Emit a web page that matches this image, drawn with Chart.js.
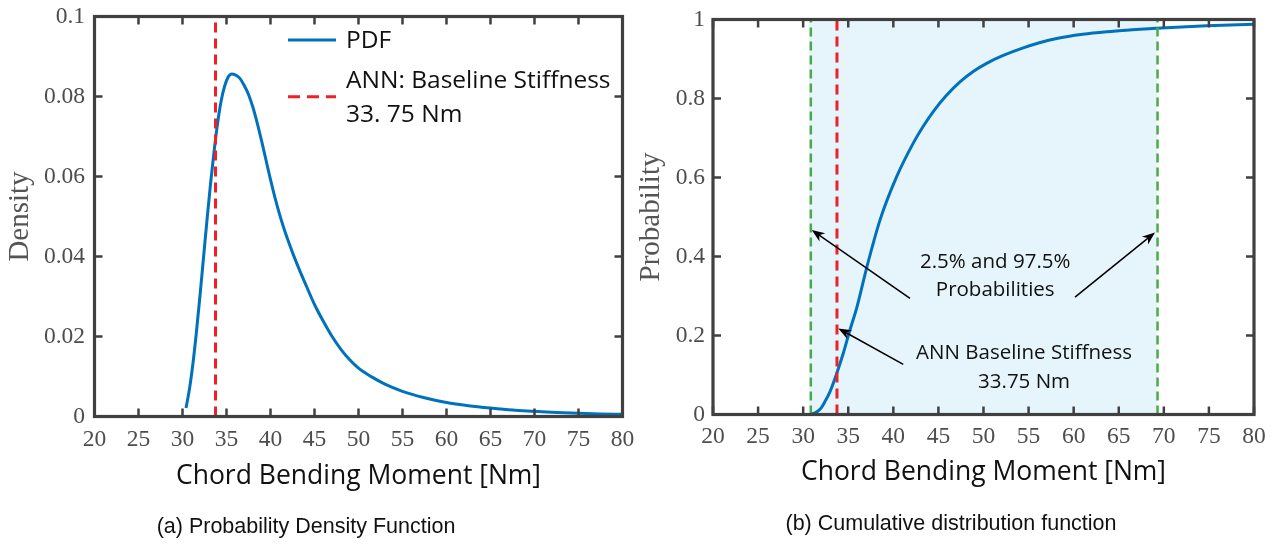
<!DOCTYPE html>
<html>
<head>
<meta charset="utf-8">
<script src="https://cdn.jsdelivr.net/npm/chart.js@4.4.1/dist/chart.umd.min.js"></script>
<style>
  body { margin: 0; background: #fff; }
  #wrap { position: relative; width: 1276px; height: 545px; overflow: hidden; }
  #pdfChart { position: absolute; left: 0; top: 0; }
  #cdfChart { position: absolute; left: 630px; top: 0; }
  .cap { position: absolute; font-family: "Liberation Sans", Arial, sans-serif; font-size: 21.5px; color: #111;
         white-space: nowrap; transform: translate(-50%, -50%); }
</style>
</head>
<body>
<div id="wrap">
  <canvas id="pdfChart" width="660" height="545"></canvas>
  <canvas id="cdfChart" width="646" height="545"></canvas>
  <div class="cap" style="left:306px; top:526px;">(a) Probability Density Function</div>
  <div class="cap" style="left:951px; top:523px;">(b) Cumulative distribution function</div>
</div>
<script>
// ---- data ----
const xTickValues = [20, 25, 30, 35, 40, 45, 50, 55, 60, 65, 70, 75, 80];
const pdfYTicks = [0, 0.02, 0.04, 0.06, 0.08, 0.1];
const pdfYLabels = ['0', '0.02', '0.04', '0.06', '0.08', '0.1'];
const cdfYTicks = [0, 0.2, 0.4, 0.6, 0.8, 1];
const cdfYLabels = ['0', '0.2', '0.4', '0.6', '0.8', '1'];

const pdfX = [30.4, 30.8, 31.2, 31.6, 32.0, 32.4, 32.8, 33.2, 33.6, 34.0, 34.4, 34.8, 35.2, 35.6, 36.0, 36.5,
  37.0, 37.5, 38.0, 38.5, 39.0, 39.5, 40.0, 40.5, 41.0, 41.5, 42.0, 42.6, 43.3, 44.1, 45.0, 46.0, 47.0, 48.0,
  49.0, 50.0, 51.5, 53.0, 55.0, 57.5, 60.0, 62.5, 65.0, 67.5, 70.0, 72.5, 75.0, 77.5, 80.0];
const pdfY = [0.0021, 0.0070, 0.0135, 0.0215, 0.0305, 0.0400, 0.0495, 0.0585, 0.0665, 0.0735, 0.0790, 0.0827,
  0.0849, 0.0856, 0.0854, 0.0846, 0.0828, 0.0805, 0.0773, 0.0733, 0.0688, 0.0640, 0.0592, 0.0548, 0.0508,
  0.0472, 0.0440, 0.0404, 0.0366, 0.0325, 0.0280, 0.0238, 0.0200, 0.0168, 0.0142, 0.0121, 0.0099, 0.0081,
  0.0063, 0.0047, 0.0035, 0.0027, 0.0021, 0.0016, 0.0013, 0.0010, 0.0008, 0.00065, 0.00055];

const cdfX = [30.76, 31.3, 31.87, 32.4, 32.98, 33.72, 34.45, 35.19, 35.94, 37.05, 38.52, 40.37, 42.21, 43.3,
  44.43, 45.9, 47.39, 48.9, 50.35, 52.0, 54.41, 56.2, 58.12, 61.0, 63.66, 66.5, 69.2, 74.75, 80];
const cdfY = [0, 0.004, 0.013, 0.032, 0.058, 0.104, 0.155, 0.214, 0.270, 0.372, 0.492, 0.602, 0.687, 0.729,
  0.767, 0.808, 0.842, 0.869, 0.889, 0.907, 0.928, 0.941, 0.952, 0.9625, 0.969, 0.974, 0.978, 0.984, 0.988];

const annBaseline = 33.75;           // red dashed line
const quantiles = [30.85, 69.3];     // green dashed lines (2.5% / 97.5%)
const shadeRange = [30.6, 69.3];

const legendLabels = ['PDF', 'ANN: Baseline Stiffness', '33. 75 Nm'];
const cdfNotes = [
  { text: '2.5% and 97.5%', x: 51.3, y: 0.385 },
  { text: 'Probabilities', x: 51.3, y: 0.315 },
  { text: 'ANN Baseline Stiffness', x: 54.5, y: 0.156 },
  { text: '33.75 Nm', x: 54.5, y: 0.083 }
];
const cdfArrows = [
  { from: [41.85, 0.294], to: [30.95, 0.467] },
  { from: [60.15, 0.297], to: [69.02, 0.461] },
  { from: [41.1, 0.127], to: [33.9, 0.218] }
];

const blue = '#0072BD';
const red = '#ee2028';
const green = '#4aab46';
const axisGrey = '#404040';
const serif = '"Liberation Serif", "Times New Roman", serif';
const sans = '"Open Sans", "Noto Sans", sans-serif';

function pts(xs, ys) {
  return xs.map((x, i) => ({ x: x, y: ys[i] }));
}

// box around the plot with inward ticks on all four sides
const frameTicks = {
  id: 'frameTicks',
  afterDraw(chart) {
    const ctx = chart.ctx;
    const a = chart.chartArea;
    const xs = chart.scales.x, ys = chart.scales.y;
    ctx.save();
    ctx.setLineDash([]);
    ctx.strokeStyle = axisGrey;
    ctx.lineWidth = 2.5;
    for (const v of xTickValues) {
      const px = xs.getPixelForValue(v);
      ctx.beginPath();
      ctx.moveTo(px, a.bottom); ctx.lineTo(px, a.bottom - 8);
      ctx.moveTo(px, a.top); ctx.lineTo(px, a.top + 8);
      ctx.stroke();
    }
    for (const t of ys.ticks) {
      const py = ys.getPixelForValue(t.value);
      ctx.beginPath();
      ctx.moveTo(a.left, py); ctx.lineTo(a.left + 8, py);
      ctx.moveTo(a.right, py); ctx.lineTo(a.right - 8, py);
      ctx.stroke();
    }
    ctx.lineWidth = 3.2;
    ctx.strokeRect(a.left, a.top, a.right - a.left, a.bottom - a.top);
    ctx.restore();
  }
};

const pdfLegend = {
  id: 'pdfLegend',
  afterDraw(chart) {
    const { ctx, chartArea: a } = chart;
    const x0 = a.left + 193.5, x1 = a.left + 241.5, tx = a.left + 251.5;
    ctx.save();
    ctx.lineWidth = 3;
    ctx.strokeStyle = blue;
    ctx.beginPath(); ctx.moveTo(x0, a.top + 23.5); ctx.lineTo(x1, a.top + 23.5); ctx.stroke();
    ctx.strokeStyle = red;
    ctx.setLineDash([12, 7]);
    ctx.beginPath(); ctx.moveTo(x0, a.top + 80.2); ctx.lineTo(x1, a.top + 80.2); ctx.stroke();
    ctx.setLineDash([]);
    ctx.fillStyle = '#111';
    ctx.font = '24.5px ' + sans;
    ctx.textBaseline = 'middle';
    ctx.fillText(legendLabels[0], tx, a.top + 24.5);
    ctx.fillText(legendLabels[1], tx, a.top + 64.5);
    ctx.fillText(legendLabels[2], tx, a.top + 99);
    ctx.restore();
  }
};

function drawArrow(ctx, x1, y1, x2, y2) {
  const ang = Math.atan2(y2 - y1, x2 - x1);
  const c = Math.cos(ang), s = Math.sin(ang);
  const len = 13, half = 5;
  const bx = x2 - len * c, by = y2 - len * s;
  ctx.beginPath();
  ctx.moveTo(x1, y1);
  ctx.lineTo(x2 - 9 * c, y2 - 9 * s);
  ctx.stroke();
  ctx.beginPath();
  ctx.moveTo(x2, y2);
  ctx.lineTo(bx - half * s, by + half * c);
  ctx.lineTo(x2 - 9 * c, y2 - 9 * s);
  ctx.lineTo(bx + half * s, by - half * c);
  ctx.closePath();
  ctx.fill();
}

const cdfNotesPlugin = {
  id: 'cdfNotes',
  afterDraw(chart) {
    const { ctx, scales: { x, y } } = chart;
    ctx.save();
    ctx.strokeStyle = '#000';
    ctx.fillStyle = '#000';
    ctx.lineWidth = 1.5;
    cdfArrows.forEach(a => {
      drawArrow(ctx, x.getPixelForValue(a.from[0]), y.getPixelForValue(a.from[1]),
        x.getPixelForValue(a.to[0]), y.getPixelForValue(a.to[1]));
    });
    ctx.fillStyle = '#111';
    ctx.font = '20.5px ' + sans;
    ctx.textAlign = 'center';
    ctx.textBaseline = 'middle';
    cdfNotes.forEach(n => ctx.fillText(n.text, x.getPixelForValue(n.x), y.getPixelForValue(n.y)));
    ctx.restore();
  }
};

function noPad(s) {
  s.paddingTop = 0; s.paddingBottom = 0; s.paddingLeft = 0; s.paddingRight = 0;
}

function axes(yTicks, yLabels, yTitle, yMax, sizes) {
  return {
    x: {
      type: 'linear', min: 20, max: 80,
      afterBuildTicks: s => { s.ticks = xTickValues.map(v => ({ value: v })); },
      afterFit: s => { s.height = sizes.xHeight; noPad(s); },
      grid: { display: false, drawTicks: false },
      border: { display: false },
      ticks: { padding: sizes.xPad, color: '#4d4d4d', font: { family: serif, size: 23.5 }, maxRotation: 0,
               autoSkip: false, callback: v => String(v) },
      title: { display: true, text: 'Chord Bending Moment [Nm]', color: '#111',
               font: { family: sans, size: 26.5 }, padding: { top: 0, bottom: sizes.xTitlePad } }
    },
    y: {
      type: 'linear', min: 0, max: yMax,
      afterBuildTicks: s => { s.ticks = yTicks.map(v => ({ value: v })); },
      afterFit: s => { s.width = sizes.yWidth; noPad(s); },
      grid: { display: false, drawTicks: false },
      border: { display: false },
      ticks: { padding: sizes.yPad, color: '#4d4d4d', font: { family: serif, size: 23.5 },
               autoSkip: false, callback: (v, i) => yLabels[i] },
      title: { display: true, text: yTitle, color: '#555',
               font: { family: serif, size: 29 }, padding: { top: sizes.yTitlePad, bottom: 0 } }
    }
  };
}

const common = {
  responsive: false,
  animation: false,
  events: [],
  plugins: { legend: { display: false }, tooltip: { enabled: false } },
  elements: { point: { radius: 0 } }
};

new Chart(document.getElementById('pdfChart'), {
  type: 'line',
  data: {
    datasets: [
      { data: [{ x: annBaseline, y: 0 }, { x: annBaseline, y: 0.1 }], borderColor: red, borderWidth: 3,
        borderDash: [10, 6] },
      { data: pts(pdfX, pdfY), borderColor: blue, borderWidth: 3, cubicInterpolationMode: 'monotone' }
    ]
  },
  options: Object.assign({}, common, {
    layout: { padding: { top: 16.5, right: 37.5, left: 0, bottom: 0 } },
    scales: axes(pdfYTicks, pdfYLabels, 'Density', 0.1,
      { xHeight: 128.5, xPad: 9.4, xTitlePad: 52.2, yWidth: 94.5, yPad: 9.5, yTitlePad: 2.6 })
  }),
  plugins: [frameTicks, pdfLegend]
});

new Chart(document.getElementById('cdfChart'), {
  type: 'line',
  data: {
    datasets: [
      { data: [{ x: annBaseline, y: 0 }, { x: annBaseline, y: 1 }], borderColor: red, borderWidth: 3,
        borderDash: [10, 6] },
      { data: [{ x: quantiles[0], y: 0 }, { x: quantiles[0], y: 1 }], borderColor: green, borderWidth: 2.5,
        borderDash: [9, 5] },
      { data: [{ x: quantiles[1], y: 0 }, { x: quantiles[1], y: 1 }], borderColor: green, borderWidth: 2.5,
        borderDash: [9, 5] },
      { data: pts(cdfX, cdfY), borderColor: blue, borderWidth: 3, cubicInterpolationMode: 'monotone' },
      { data: [{ x: shadeRange[0], y: 1 }, { x: shadeRange[1], y: 1 }], borderWidth: 0,
        backgroundColor: '#e6f4fb', fill: 'origin', order: 10 }
    ]
  },
  options: Object.assign({}, common, {
    layout: { padding: { top: 19.5, right: 22, left: 0, bottom: 0 } },
    scales: axes(cdfYTicks, cdfYLabels, 'Probability', 1,
      { xHeight: 130.5, xPad: 8.4, xTitlePad: 56.2, yWidth: 83, yPad: 8, yTitlePad: 3.6 })
  }),
  plugins: [frameTicks, cdfNotesPlugin]
});
</script>
</body>
</html>
